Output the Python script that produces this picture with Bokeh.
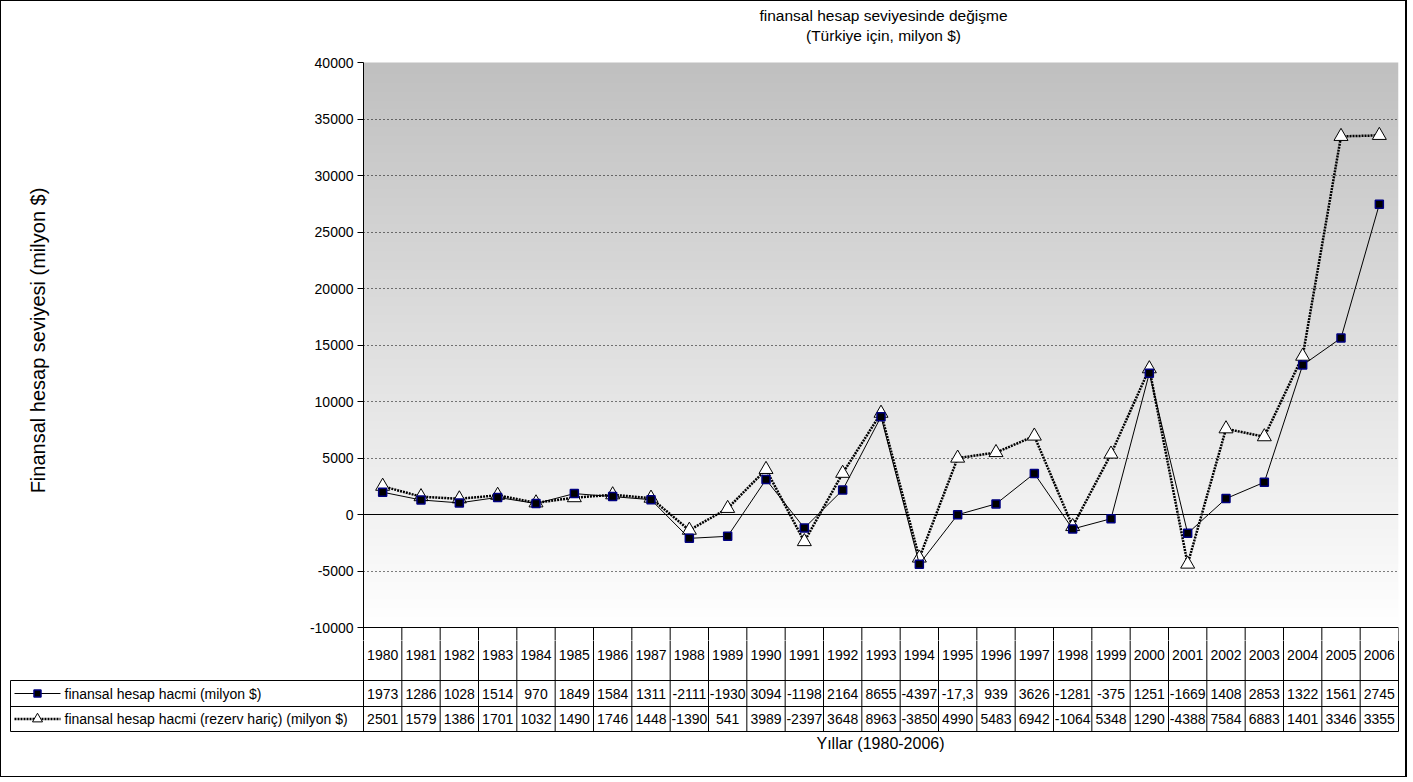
import numpy as np
from bokeh.plotting import figure
from bokeh.layouts import column, row
from bokeh.models import Range1d, FixedTicker, NumeralTickFormatter, Span
from bokeh.core.properties import value
from bokeh.embed import file_html
from bokeh.resources import INLINE

# ---------------- data ----------------
years = ["1980", "1981", "1982", "1983", "1984", "1985", "1986", "1987", "1988",
         "1989", "1990", "1991", "1992", "1993", "1994", "1995", "1996", "1997",
         "1998", "1999", "2000", "2001", "2002", "2003", "2004", "2005", "2006"]

hacmi = [1973, 1286, 1028, 1514, 970, 1849, 1584, 1311, -2111, -1930, 3094, -1198,
         2164, 8655, -4397, -17.3, 939, 3626, -1281, -375, 12510, -1669, 1408, 2853,
         13220, 15610, 27450]

rezerv_haric = [2501, 1579, 1386, 1701, 1032, 1490, 1746, 1448, -1390, 541, 3989, -2397,
                3648, 8963, -3850, 4990, 5483, 6942, -1064, 5348, 12900, -4388, 7584, 6883,
                14010, 33460, 33550]

hacmi_labels = ["1973", "1286", "1028", "1514", "970", "1849", "1584", "1311", "-2111",
                "-1930", "3094", "-1198", "2164", "8655", "-4397", "-17,3", "939", "3626",
                "-1281", "-375", "1251", "-1669", "1408", "2853", "1322", "1561", "2745"]

rezerv_labels = ["2501", "1579", "1386", "1701", "1032", "1490", "1746", "1448", "-1390",
                 "541", "3989", "-2397", "3648", "8963", "-3850", "4990", "5483", "6942",
                 "-1064", "5348", "1290", "-4388", "7584", "6883", "1401", "3346", "3355"]

series_names = ["finansal hesap hacmi (milyon $)",
                "finansal hesap hacmi (rezerv hariç) (milyon $)"]
title_lines = ["finansal hesap seviyesinde değişme", "(Türkiye için, milyon $)"]
y_title = "Finansal hesap seviyesi (milyon $)"
x_title = "Yıllar (1980-2006)"
y_ticks = [-10000, -5000, 0, 5000, 10000, 15000, 20000, 25000, 30000, 35000, 40000]

# ---------------- geometry (page pixels) ----------------
FONT = "Liberation Sans"
C_L, C_R = 1, 1405          # content box (inside the 1px outer border)
C_T = 1
BOTTOM = 776
W = C_R - C_L
YT_W = 60                   # width of the strip holding the y title
PLOT_L, PLOT_R, PLOT_T, PLOT_B = 363, 1398, 62, 627
SPLIT = 640
Y_MIN, Y_MAX = y_ticks[0], y_ticks[-1]
n = len(years)
xs = list(range(1, n + 1))
px_y = (PLOT_B - PLOT_T) / (Y_MAX - Y_MIN)
px_x = (PLOT_R - PLOT_L) / n


def y_of_page(py):
    return Y_MAX - (py - PLOT_T) / px_y


def x_of_page(px):
    return 0.5 + (px - PLOT_L) / px_x


H1 = SPLIT - C_T

# ---------------- y title strip ----------------
pY = figure(width=YT_W, height=H1, x_range=Range1d(C_L, C_L + YT_W),
            y_range=Range1d(SPLIT, C_T), output_backend="svg", toolbar_location=None,
            x_axis_type=None, y_axis_type=None, min_border_left=0, min_border_right=0,
            min_border_top=0, min_border_bottom=0)
pY.outline_line_color = None
pY.grid.visible = False
pY.text(x=[37], y=[340], text=[y_title], angle=np.pi / 2, text_align="center",
        text_baseline="middle", text_font=value(FONT), text_font_size="20px",
        text_color="black")

# ---------------- main plot ----------------
W1 = W - YT_W
p1 = figure(width=W1, height=H1,
            x_range=Range1d(0.5, n + 0.5),
            y_range=Range1d(y_of_page(SPLIT), y_of_page(C_T)),
            output_backend="svg", toolbar_location=None, x_axis_type=None,
            min_border_left=PLOT_L - (C_L + YT_W), min_border_right=C_R - PLOT_R,
            min_border_top=0, min_border_bottom=0)
p1.outline_line_color = None
p1.background_fill_color = "white"
p1.border_fill_color = "white"

ax = p1.yaxis[0]
ax.ticker = FixedTicker(ticks=y_ticks)
ax.bounds = (y_of_page(SPLIT + 5), Y_MAX)
ax.formatter = NumeralTickFormatter(format="0")
ax.major_tick_out = 6
ax.major_tick_in = 0
ax.minor_tick_out = 0
ax.minor_tick_in = 0
ax.axis_line_color = "black"
ax.major_tick_line_color = "black"
ax.major_label_text_font = FONT
ax.major_label_text_font_size = "14px"
ax.major_label_text_color = "black"
ax.major_label_standoff = 4

p1.ygrid.ticker = FixedTicker(ticks=[t for t in y_ticks if t not in (Y_MIN, 0, Y_MAX)])
p1.ygrid.grid_line_color = "black"
p1.ygrid.grid_line_dash = "1 3"
p1.ygrid.grid_line_width = 1

# gradient background of the plot area
rows = 256
g = np.linspace(255, 192, rows)
img = np.zeros((rows, 2), dtype=np.uint32)
view = img.view(dtype=np.uint8).reshape((rows, 2, 4))
for c in range(3):
    view[:, :, c] = g[:, None]
view[:, :, 3] = 255
p1.image_rgba(image=[img], x=0.5, y=Y_MIN, dw=n, dh=Y_MAX - Y_MIN, level="image")

p1.add_layout(Span(location=0, dimension="width", line_color="black", line_width=1,
                   level="underlay"))
p1.segment(x0=[0.5], y0=[Y_MIN], x1=[n + 0.5], y1=[Y_MIN], line_color="black", line_width=1)

# table cell borders running through the top of the year row
cell_x = [k + 0.5 for k in range(1, n + 1)]
p1.segment(x0=cell_x, y0=[Y_MIN] * n, x1=cell_x, y1=[y_of_page(SPLIT + 5)] * n,
           line_color="black", line_width=1)

# series
p1.line(xs, rezerv_haric, line_color="black", line_width=2.5, line_dash="2 1")
p1.scatter(xs, rezerv_haric, marker="triangle", size=14, fill_color="white",
           line_color="black", line_width=1)
p1.line(xs, hacmi, line_color="black", line_width=1)
p1.scatter(xs, hacmi, marker="square", size=8, fill_color="black",
           line_color="#000080", line_width=1.5)

# titles
p1.text(x=[x_of_page(883)] * 2, y=[y_of_page(15), y_of_page(35)], text=title_lines,
        text_align="center", text_baseline="middle", text_font=value(FONT),
        text_font_size="15.5px", text_color="black")

# ---------------- data table ----------------
H2 = BOTTOM - SPLIT
p2 = figure(width=W, height=H2,
            x_range=Range1d(x_of_page(C_L), x_of_page(C_R)),
            y_range=Range1d(BOTTOM, SPLIT),
            output_backend="svg", toolbar_location=None,
            x_axis_type=None, y_axis_type=None,
            min_border_left=0, min_border_right=0, min_border_top=0, min_border_bottom=0)
p2.outline_line_color = None
p2.background_fill_color = "white"
p2.border_fill_color = "white"

Y1, Y2, Y3 = 680, 706, 731
LEG_L = 10
cell_x = [k + 0.5 for k in range(n + 1)]
p2.segment(x0=cell_x, y0=[SPLIT - 5] * len(cell_x), x1=cell_x, y1=[Y3] * len(cell_x),
           line_color="black", line_width=1)
p2.segment(x0=[x_of_page(LEG_L)] * 3, y0=[Y1, Y2, Y3], x1=[n + 0.5] * 3, y1=[Y1, Y2, Y3],
           line_color="black", line_width=1)
p2.segment(x0=[x_of_page(LEG_L)], y0=[Y1], x1=[x_of_page(LEG_L)], y1=[Y3],
           line_color="black", line_width=1)

tkw = dict(text_align="center", text_baseline="middle", text_font=value(FONT),
           text_font_size="14px", text_color="black")
p2.text(x=xs, y=[(PLOT_B + Y1) / 2 + 1] * n, text=years, **tkw)
p2.text(x=xs, y=[(Y1 + Y2) / 2] * n, text=hacmi_labels, **tkw)
p2.text(x=xs, y=[(Y2 + Y3) / 2] * n, text=rezerv_labels, **tkw)

# legend keys
r1y, r2y = (Y1 + Y2) / 2, (Y2 + Y3) / 2
p2.line([x_of_page(14), x_of_page(60)], [r1y, r1y], line_color="black", line_width=1)
p2.scatter([x_of_page(37)], [r1y], marker="square", size=7, fill_color="black",
           line_color="#000080", line_width=1.5)
p2.line([x_of_page(14), x_of_page(60)], [r2y, r2y], line_color="black", line_width=2.5,
        line_dash="2 1")
p2.scatter([x_of_page(37)], [r2y], marker="triangle", size=10, fill_color="white",
           line_color="black", line_width=1)
p2.text(x=[x_of_page(64)] * 2, y=[r1y, r2y], text=series_names, text_align="left",
        text_baseline="middle", text_font=value(FONT), text_font_size="14px",
        text_color="black")

p2.text(x=[x_of_page(880)], y=[743], text=[x_title], text_align="center",
        text_baseline="middle", text_font=value(FONT), text_font_size="16px",
        text_color="black")

top = row(pY, p1, spacing=0,
          styles={"border-left": "1px solid black", "border-right": "2px solid black",
                  "border-top": "1px solid black"})
bottom = column(p2, spacing=0,
                styles={"border-left": "1px solid black", "border-right": "2px solid black",
                        "border-bottom": "1px solid black"})

with open("out.html", "w") as f:
    f.write(file_html([top, bottom], INLINE))
